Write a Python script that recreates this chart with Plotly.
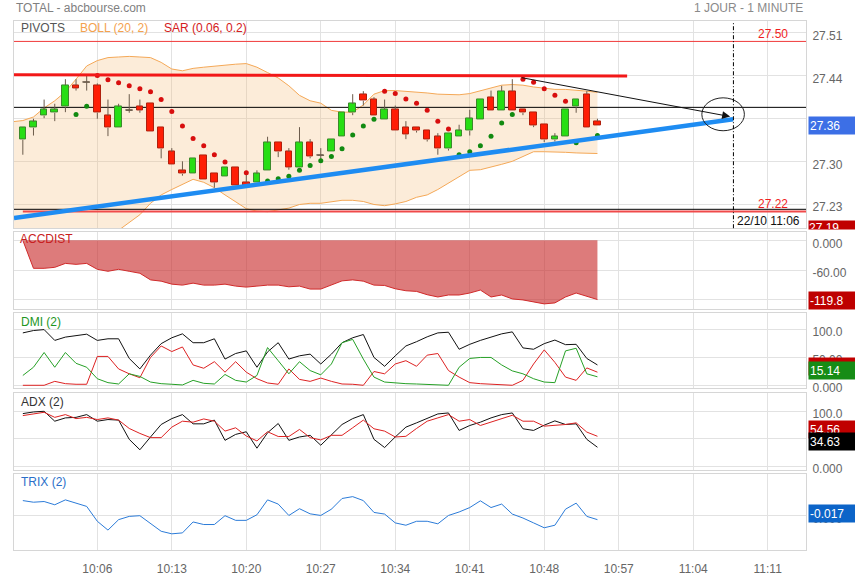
import plotly.graph_objects as go

# ---------------- DATA ----------------
minutes = list(range(55))            # one candle per minute, 09:59 -> 10:53
band_minutes = list(range(-1, 55))
tick_pos = [7, 14, 21, 28, 35, 42, 49, 56, 63, 70]
tick_text = ["10:06", "10:13", "10:20", "10:27", "10:34", "10:41", "10:48", "10:57", "11:04", "11:11"]

opens = [27.336, 27.356, 27.376, 27.381, 27.391, 27.427, 27.432, 27.427, 27.376, 27.356,
         27.385, 27.392, 27.396, 27.356, 27.316, 27.285, 27.279, 27.310, 27.279, 27.275,
         27.290, 27.265, 27.264, 27.285, 27.331, 27.316, 27.290, 27.331, 27.310, 27.316,
         27.341, 27.381, 27.412, 27.403, 27.370, 27.386, 27.357, 27.357, 27.351, 27.341,
         27.321, 27.341, 27.351, 27.370, 27.407, 27.385, 27.417, 27.386, 27.381, 27.361,
         27.336, 27.341, 27.391, 27.412, 27.367]
closes = [27.356, 27.366, 27.386, 27.386, 27.427, 27.422, 27.432, 27.381, 27.356, 27.391,
          27.385, 27.385, 27.350, 27.321, 27.294, 27.279, 27.305, 27.270, 27.265, 27.290,
          27.260, 27.260, 27.279, 27.331, 27.316, 27.290, 27.331, 27.308, 27.310, 27.337,
          27.381, 27.396, 27.401, 27.376, 27.386, 27.351, 27.345, 27.351, 27.336, 27.321,
          27.347, 27.351, 27.371, 27.403, 27.385, 27.417, 27.385, 27.381, 27.360, 27.336,
          27.341, 27.386, 27.403, 27.356, 27.360]
highs = [27.357, 27.371, 27.403, 27.396, 27.437, 27.437, 27.443, 27.430, 27.403, 27.396,
         27.412, 27.403, 27.396, 27.356, 27.322, 27.300, 27.305, 27.310, 27.279, 27.290,
         27.290, 27.278, 27.285, 27.341, 27.331, 27.322, 27.357, 27.337, 27.322, 27.337,
         27.381, 27.412, 27.417, 27.407, 27.403, 27.393, 27.367, 27.357, 27.351, 27.347,
         27.347, 27.361, 27.386, 27.403, 27.418, 27.426, 27.437, 27.386, 27.381, 27.361,
         27.347, 27.386, 27.403, 27.417, 27.371]
lows = [27.311, 27.343, 27.372, 27.367, 27.382, 27.418, 27.418, 27.371, 27.342, 27.356,
        27.381, 27.381, 27.350, 27.305, 27.294, 27.276, 27.279, 27.270, 27.256, 27.275,
        27.260, 27.260, 27.264, 27.285, 27.307, 27.286, 27.290, 27.305, 27.303, 27.316,
        27.341, 27.377, 27.393, 27.376, 27.370, 27.351, 27.337, 27.348, 27.333, 27.311,
        27.318, 27.341, 27.343, 27.370, 27.385, 27.385, 27.385, 27.377, 27.357, 27.332,
        27.333, 27.341, 27.381, 27.356, 27.360]

boll_upper = [27.366, 27.368, 27.374, 27.389, 27.401, 27.416, 27.437, 27.459, 27.468, 27.473,
              27.474, 27.475, 27.474, 27.473, 27.465, 27.454, 27.451, 27.455, 27.457, 27.459,
              27.461, 27.462, 27.463, 27.457, 27.448, 27.439, 27.426, 27.410, 27.401, 27.397,
              27.385, 27.382, 27.382, 27.394, 27.412, 27.418, 27.418, 27.417, 27.416, 27.414,
              27.412, 27.411, 27.411, 27.413, 27.418, 27.423, 27.427, 27.428, 27.427, 27.424,
              27.422, 27.420, 27.420, 27.419, 27.417, 27.415]
boll_lower = [27.182, 27.174, 27.157, 27.144, 27.137, 27.134, 27.137, 27.144, 27.154, 27.165,
              27.185, 27.198, 27.211, 27.230, 27.244, 27.253, 27.261, 27.270, 27.265, 27.256,
              27.244, 27.232, 27.221, 27.217, 27.216, 27.219, 27.222, 27.228, 27.230, 27.230,
              27.232, 27.235, 27.235, 27.233, 27.228, 27.226, 27.229, 27.233, 27.240, 27.244,
              27.253, 27.264, 27.274, 27.285, 27.286, 27.290, 27.295, 27.300, 27.308, 27.316,
              27.316, 27.316, 27.315, 27.314, 27.313, 27.313]

sar_up_x = [5, 6, 23, 24, 25, 26, 27, 28, 29, 30, 31, 32, 33, 41, 42, 43, 44, 45, 46, 52, 54]
sar_up_y = [27.378, 27.392, 27.267, 27.271, 27.275, 27.285, 27.293, 27.301, 27.308, 27.321,
            27.344, 27.359, 27.370, 27.311, 27.316, 27.326, 27.342, 27.364, 27.378, 27.331, 27.343]
sar_dn_x = [7, 8, 9, 10, 11, 12, 13, 14, 15, 16, 17, 18, 19, 21, 34, 35, 36, 37, 38, 39, 40,
            47, 48, 49, 50, 51]
sar_dn_y = [27.443, 27.436, 27.431, 27.426, 27.421, 27.416, 27.403, 27.383, 27.359, 27.338,
            27.326, 27.311, 27.299, 27.281, 27.417, 27.413, 27.404, 27.397, 27.385, 27.367,
            27.354, 27.437, 27.432, 27.421, 27.410, 27.400]

pivot_levels = [27.50, 27.39, 27.220, 27.2165]
pivot_colors = ["#F03A3A", "#000000", "#000000", "#F04A4A"]
pivot_widths = [1, 1, 1, 2]
pivot_labels = {"27.50": 27.50, "27.22": 27.2165}

acc_dist = [0.0, -56.6, -56.6, -54.6, -46.6, -48.6, -46.6, -58.6, -62.6, -58.6,
            -62.6, -66.6, -80.0, -82.6, -88.6, -90.6, -86.6, -90.6, -90.6, -88.6,
            -92.6, -94.6, -92.6, -90.6, -90.6, -94.0, -92.6, -98.6, -98.6, -90.0,
            -82.0, -80.0, -82.6, -90.6, -91.3, -98.0, -102.0, -103.3, -110.0, -114.6,
            -110.6, -110.6, -106.6, -100.6, -114.6, -110.6, -118.6, -120.6, -124.6, -128.6,
            -126.6, -114.6, -106.6, -112.6, -119.8]

dmi_dx = [93.5, 97.7, 99.4, 80.1, 86.0, 88.9, 91.2, 80.1, 83.0, 83.0,
          47.9, 29.2, 53.8, 74.3, 84.8, 91.8, 76.0, 76.0, 83.0, 46.8,
          56.7, 61.4, 32.2, 59.6, 76.0, 46.8, 52.6, 55.6, 38.0, 55.6,
          76.0, 84.8, 90.6, 49.7, 33.9, 52.6, 70.2, 77.8, 86.5, 93.5,
          94.7, 64.3, 73.1, 80.1, 86.0, 91.8, 95.3, 66.7, 64.3, 74.3,
          80.7, 72.5, 73.1, 47.9, 36.3]
dmi_plus = [17.5, 32.2, 58.5, 32.2, 58.5, 39.2, 32.2, 11.7, 4.7, 2.3,
            20.5, 15.8, 5.8, 2.9, 1.8, 0.6, 8.8, 3.5, 2.3, 19.3,
            8.8, 5.8, 17.5, 67.3, 43.9, 20.5, 42.1, 26.3, 18.7, 38.0,
            76.0, 81.9, 46.8, 14.6, 5.8, 4.1, 2.9, 2.3, 1.2, 0.6,
            0.0, 32.2, 47.9, 49.7, 49.7, 36.3, 25.7, 20.5, 11.7, 5.8,
            4.7, 61.4, 66.1, 20.5, 15.14]
dmi_minus = [0.0, 0.0, 0.0, 7.0, 2.9, 1.8, 1.8, 51.5, 51.5, 29.2,
             20.5, 13.5, 49.7, 70.2, 60.2, 68.4, 36.3, 30.4, 42.1, 23.4,
             42.1, 23.4, 11.7, 4.1, 1.8, 29.2, 10.5, 7.0, 12.9, 7.0,
             2.3, 1.8, 0.0, 24.6, 20.5, 38.0, 43.9, 33.9, 53.8, 56.7,
             26.3, 14.6, 4.7, 2.9, 1.8, 0.0, 0.0, 8.8, 38.0, 63.2,
             40.9, 14.6, 8.8, 31.0, 23.4]

adx_dx = [95.8, 98.8, 100.0, 82.0, 88.0, 89.0, 94.0, 82.0, 85.0, 84.0,
          49.0, 30.0, 53.3, 76.0, 86.7, 94.0, 77.2, 77.2, 84.0, 47.2,
          58.0, 62.8, 32.9, 61.0, 77.8, 47.2, 53.3, 56.3, 38.3, 58.0,
          76.0, 86.7, 94.0, 49.0, 34.1, 53.3, 71.2, 79.0, 86.7, 95.2,
          97.0, 65.2, 74.2, 80.2, 88.0, 94.0, 97.0, 68.2, 65.2, 74.8,
          82.6, 76.0, 77.2, 49.0, 34.63]
adx_line = [92.2, 95.8, 98.2, 89.0, 94.0, 86.7, 89.0, 85.0, 88.0, 84.0,
            68.8, 59.8, 52.1, 52.1, 71.2, 82.0, 80.2, 86.1, 82.0, 64.0,
            70.0, 55.1, 46.1, 62.8, 54.2, 54.2, 67.0, 52.1, 47.9, 56.3,
            56.3, 70.0, 84.0, 68.2, 64.0, 53.3, 54.5, 68.8, 82.0, 88.0,
            94.0, 82.0, 85.0, 74.2, 80.2, 86.7, 92.8, 82.0, 82.0, 73.0,
            74.2, 76.0, 79.0, 62.2, 54.56]

trix = [0.065, 0.058, 0.061, 0.047, 0.068, 0.054, 0.040, -0.024, -0.062, -0.017,
        -0.003, 0.000, -0.034, -0.067, -0.078, -0.074, -0.027, -0.038, -0.038, 0.000,
        -0.020, -0.020, 0.004, 0.068, 0.050, 0.001, 0.030, 0.008, 0.001, 0.028,
        0.074, 0.082, 0.065, 0.014, 0.007, -0.031, -0.041, -0.024, -0.024, -0.035,
        0.001, 0.016, 0.035, 0.064, 0.035, 0.050, 0.007, -0.010, -0.031, -0.052,
        -0.041, 0.028, 0.054, -0.003, -0.017]

price_ticks = [27.2285, 27.2999, 27.3713, 27.4427, 27.5141]
price_ticktext = ["27.23", "27.30", "27.37", "27.44", "27.51"]
acc_ticks = [0, -60, -120]
acc_ticktext = ["0.000", "-60.00", "-120.0"]
osc_ticks = [0, 50, 100]
osc_ticktext = ["0.000", "50.00", "100.0"]
trix_ticks = [0]
trix_ticktext = ["0.000"]

# user drawings (minute index, price)
resistance_line = [(-0.83, 27.4446), (56.79, 27.4422)]
support_line = [(-0.83, 27.2054), (66.75, 27.3702)]
down_arrow = [(46.73, 27.4400), (66.47, 27.3746)]
target_ellipse = [(63.81, 27.3510), (67.81, 27.4059)]
marker_time = 66.78
marker_label = "22/10 11:06"
last_low_label = "27.19"

# ---------------- LAYOUT HELPERS ----------------
W, H = 855, 580
ML, MR = 14, 49
PW = W - ML - MR
XR = [-0.83, 73.6]
GRID = "#E2E2E2"
BORDER = "#D6D6D6"
FONT = "Liberation Sans, Arial, sans-serif"


def px_x(px):
    return (px - ML) / PW


def px_y(py):
    return 1 - py / H


fig = go.Figure()

# Bollinger bands (base price axis)
fig.add_trace(go.Scatter(x=band_minutes, y=boll_upper, mode="lines",
                         line=dict(color="#F4A857", width=1), hoverinfo="skip",
                         xaxis="x", yaxis="y"))
fig.add_trace(go.Scatter(x=band_minutes, y=boll_lower, mode="lines",
                         line=dict(color="#F4A857", width=1), fill="tonexty",
                         fillcolor="rgba(245,185,120,0.28)", hoverinfo="skip",
                         xaxis="x", yaxis="y"))
# pivot lines
for lvl, col, wd in zip(pivot_levels, pivot_colors, pivot_widths):
    x0 = 0 if wd == 2 else XR[0]
    fig.add_trace(go.Scatter(x=[x0, XR[1]], y=[lvl, lvl], mode="lines",
                             line=dict(color=col, width=wd), hoverinfo="skip",
                             xaxis="x", yaxis="y"))

# candles (overlay axis so they sit above the band fill)
body_base, body_h, body_fill, body_line = [], [], [], []
wx, wy = [], []
for k, o, h, l, c in zip(minutes, opens, highs, lows, closes):
    top, bot = max(o, c), min(o, c)
    body_base.append(bot)
    body_h.append(top - bot)
    if c > o:
        body_fill.append("#27DE14"); body_line.append("#3C8A2C")
    elif c < o:
        body_fill.append("#FF1E05"); body_line.append("#B0200E")
    else:
        body_fill.append("#6B5B4B"); body_line.append("#6B5B4B")
    wx += [k, k, None, k, k, None]
    wy += [h, top, None, bot, l, None]
    if c == o:
        wx += [k - 0.31, k + 0.31, None]
        wy += [o, o, None]

fig.add_trace(go.Bar(x=minutes, y=body_h, base=body_base, width=0.62,
                     marker=dict(color=body_fill, line=dict(color=body_line, width=1)),
                     hoverinfo="skip", xaxis="x", yaxis="y6"))
fig.add_trace(go.Scatter(x=wx, y=wy, mode="lines", line=dict(color="#6B5B4B", width=1),
                         hoverinfo="skip", xaxis="x", yaxis="y6"))
fig.add_trace(go.Scatter(x=sar_up_x, y=sar_up_y, mode="markers",
                         marker=dict(color="#118A11", size=5), hoverinfo="skip",
                         xaxis="x", yaxis="y6"))
fig.add_trace(go.Scatter(x=sar_dn_x, y=sar_dn_y, mode="markers",
                         marker=dict(color="#D80E0E", size=5), hoverinfo="skip",
                         xaxis="x", yaxis="y6"))

# ACCDIST
fig.add_trace(go.Scatter(x=minutes, y=acc_dist, mode="lines", fill="tozeroy",
                         fillcolor="rgba(200,40,40,0.61)", line=dict(color="#D02A2A", width=1),
                         hoverinfo="skip", xaxis="x2", yaxis="y2"))
# DMI
fig.add_trace(go.Scatter(x=minutes, y=dmi_dx, mode="lines", line=dict(color="#111111", width=1),
                         hoverinfo="skip", xaxis="x3", yaxis="y3"))
fig.add_trace(go.Scatter(x=minutes, y=dmi_minus, mode="lines", line=dict(color="#DD2222", width=1),
                         hoverinfo="skip", xaxis="x3", yaxis="y3"))
fig.add_trace(go.Scatter(x=minutes, y=dmi_plus, mode="lines", line=dict(color="#26A026", width=1),
                         hoverinfo="skip", xaxis="x3", yaxis="y3"))
# ADX
fig.add_trace(go.Scatter(x=minutes, y=adx_dx, mode="lines", line=dict(color="#111111", width=1),
                         hoverinfo="skip", xaxis="x4", yaxis="y4"))
fig.add_trace(go.Scatter(x=minutes, y=adx_line, mode="lines", line=dict(color="#DD2222", width=1),
                         hoverinfo="skip", xaxis="x4", yaxis="y4"))
# TRIX
fig.add_trace(go.Scatter(x=minutes, y=trix, mode="lines", line=dict(color="#2B7BD8", width=1),
                         hoverinfo="skip", xaxis="x5", yaxis="y5"))

# ---------------- AXES ----------------
def xax(anchor, labels=False):
    return dict(domain=[0, 1], range=XR, anchor=anchor, tickvals=tick_pos, ticktext=tick_text,
                showgrid=True, gridcolor=GRID, gridwidth=1, zeroline=False,
                showline=True, linecolor=BORDER, linewidth=1, mirror=True, ticks="",
                showticklabels=labels, ticklabelstandoff=7,
                tickfont=dict(family=FONT, size=12, color="#666666"), fixedrange=True)


def yax(anchor, top, bottom, rng, tv, tt):
    return dict(domain=[px_y(bottom), px_y(top)], range=rng, anchor=anchor, side="right",
                tickvals=tv, ticktext=tt, showgrid=True, gridcolor=GRID, gridwidth=1,
                zeroline=False, showline=True, linecolor=BORDER, linewidth=1, mirror=True,
                ticks="", ticklabelstandoff=3, ticklabelshift=3,
                tickfont=dict(family=FONT, size=12, color="#666666"), fixedrange=True)


PRICE_R = [27.18845, 27.5333]
fig.update_layout(
    xaxis=xax("y"), xaxis2=xax("y2"), xaxis3=xax("y3"), xaxis4=xax("y4"),
    xaxis5=xax("y5", labels=True),
    yaxis=yax("x", 21.7, 231, PRICE_R, price_ticks, price_ticktext),
    yaxis2=yax("x2", 235, 313, [-139.4, 16.6], acc_ticks, acc_ticktext),
    yaxis3=yax("x3", 317, 393, [-5.3, 128.7], osc_ticks, osc_ticktext),
    yaxis4=yax("x4", 398, 476, [-7.2, 132.9], osc_ticks, osc_ticktext),
    yaxis5=yax("x5", 480, 557, [-0.1488, 0.1785], trix_ticks, trix_ticktext),
    yaxis6=dict(overlaying="y", anchor="x", range=PRICE_R, visible=False, fixedrange=True),
    width=W, height=H, margin=dict(l=ML, r=MR, t=0, b=0),
    paper_bgcolor="white", plot_bgcolor="white", showlegend=False,
    font=dict(family=FONT, size=12, color="#666666"), bargap=0,
)

# ---------------- SHAPES ----------------
shapes = [
    dict(type="line", xref="x", yref="y", x0=resistance_line[0][0], y0=resistance_line[0][1],
         x1=resistance_line[1][0], y1=resistance_line[1][1],
         line=dict(color="#F21818", width=3), layer="above"),
    dict(type="line", xref="x", yref="y", x0=support_line[0][0], y0=support_line[0][1],
         x1=support_line[1][0], y1=support_line[1][1],
         line=dict(color="#1E8CF2", width=4.5), layer="above"),
    dict(type="circle", xref="x", yref="y", x0=target_ellipse[0][0], y0=target_ellipse[0][1],
         x1=target_ellipse[1][0], y1=target_ellipse[1][1],
         line=dict(color="#222222", width=1), layer="above"),
    dict(type="line", xref="x", yref="y domain", x0=marker_time, x1=marker_time, y0=0, y1=1,
         line=dict(color="#000000", width=1, dash="4px,2px,1px,2px"), layer="above"),
]
fig.update_layout(shapes=shapes)

# ---------------- ANNOTATIONS ----------------
ann = []
ann.append(dict(x=down_arrow[1][0], y=down_arrow[1][1], ax=down_arrow[0][0], ay=down_arrow[0][1],
                xref="x", yref="y", axref="x", ayref="y", showarrow=True, text="",
                arrowhead=2, arrowsize=1.6, arrowwidth=1, arrowcolor="#111111"))

def txt(x, y, s, color, size=12, xanchor="left", **kw):
    d = dict(x=x, y=y, xref="paper", yref="paper", text=s, showarrow=False,
             xanchor=xanchor, yanchor="middle", font=dict(family=FONT, size=size, color=color))
    d.update(kw)
    return d

ann.append(txt(px_x(14), px_y(8.5), "TOTAL - abcbourse.com", "#808080"))
ann.append(txt(px_x(805), px_y(8.5), "1 JOUR - 1 MINUTE", "#8A8A8A", xanchor="right"))
ann.append(txt(px_x(19), px_y(28), "PIVOTS", "#555555"))
ann.append(txt(px_x(78), px_y(28), "BOLL (20, 2)", "#F4A24E"))
ann.append(txt(px_x(162), px_y(28), "SAR (0.06, 0.2)", "#D42020"))
ann.append(txt(px_x(18), px_y(242), "ACCDIST", "#C82020"))
ann.append(txt(px_x(19), px_y(326), "DMI (2)", "#1E961E"))
ann.append(txt(px_x(19), px_y(407), "ADX (2)", "#333333"))
ann.append(txt(px_x(19), px_y(488), "TRIX (2)", "#2A6FC9"))

for lab, lvl in pivot_labels.items():
    ann.append(dict(x=70.5, y=lvl, xref="x", yref="y", text=lab, showarrow=False,
                    yshift=7.5, xanchor="center", yanchor="middle",
                    font=dict(family=FONT, size=12, color="#F01E1E")))
ann.append(dict(x=marker_time, y=px_y(224), xref="x", yref="paper", text=marker_label,
                showarrow=False, xanchor="left", yanchor="middle", xshift=2,
                font=dict(family=FONT, size=12, color="#111111")))

# last-value boxes on the right axis
def box(s, color, py, **kw):
    d = dict(x=1, y=px_y(py), xref="paper", yref="paper", text=s, showarrow=False,
             xanchor="left", yanchor="middle", xshift=2, width=45, height=15, borderpad=1,
             align="left", bgcolor=color, font=dict(family=FONT, size=12, color="white"))
    d.update(kw)
    return d

ann.append(box(last_low_label, "#C00000", 222.7, yanchor="top", height=8, borderpad=0,
               valign="top", width=47))
ann.append(box(f"{closes[-1]:.2f}", "#3C6FE6", 127.3))
ann.append(box(f"{acc_dist[-1]:.1f}", "#BE0000", 304))
ann.append(box(f"{dmi_minus[-1]:.2f}", "#C00000", 371))
ann.append(box(f"{dmi_plus[-1]:.2f}", "#168C16", 375))
ann.append(box(f"{adx_line[-1]:.2f}", "#C00000", 435))
ann.append(box(f"{adx_dx[-1]:.2f}", "#000000", 446.5))
ann.append(box(f"{trix[-1]:.3f}", "#0C64C8", 520))

fig.update_layout(annotations=ann)

fig.write_html("out.html", config={"displayModeBar": False},
               post_script="document.body.style.margin='0';")
